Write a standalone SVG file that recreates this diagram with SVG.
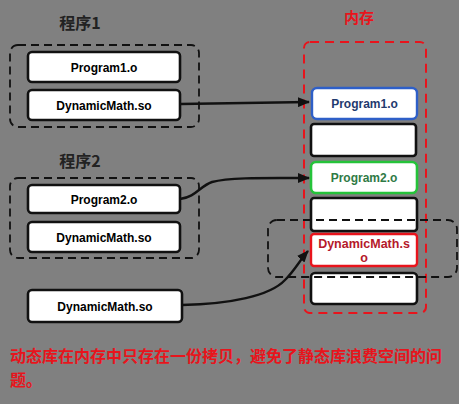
<svg xmlns="http://www.w3.org/2000/svg" width="459" height="404" viewBox="0 0 459 404">
<defs>
<style>
.bg{fill:#808080}
.box{fill:#ffffff;stroke:#111;stroke-width:2.6}
.grp{fill:none;stroke:#111;stroke-width:1.8;stroke-dasharray:8 5}
.mem{fill:none;stroke:#e8141c;stroke-width:2;stroke-dasharray:9 6}
.lbl{font-family:"Liberation Sans",Arial,sans-serif;font-weight:bold;font-size:12px;text-anchor:middle}
.hdr{font-family:"Noto Sans CJK SC","Noto Sans",sans-serif;font-weight:bold;font-size:16px;text-anchor:middle}
.conn{fill:none;stroke:#111;stroke-width:2.4}
.note{font-family:"Noto Sans CJK SC","Noto Sans",sans-serif;font-size:16px;font-weight:bold;fill:#e8141c}
</style>
<marker id="arr" markerWidth="12" markerHeight="10" refX="11" refY="5" orient="auto" markerUnits="userSpaceOnUse">
<path d="M0,0 L12,5 L0,10 Z" fill="#111"/>
</marker>
</defs>
<rect class="bg" x="0" y="0" width="459" height="404"/>

<text class="hdr" x="80" y="29" fill="#222">程序1</text>
<text class="hdr" x="80" y="167" fill="#222">程序2</text>
<text class="hdr" x="359" y="23" fill="#e8141c" style="font-size:15px">内存</text>

<g id="group1">
<rect class="grp" x="10" y="45" width="189" height="82" rx="8"/>
</g>
<g id="p1_program1">
<rect class="box" x="28" y="52" width="152" height="30" rx="4"/>
<text class="lbl" x="104" y="71.5">Program1.o</text>
</g>
<g id="p1_dynamicmath">
<rect class="box" x="28" y="90" width="152" height="30" rx="4"/>
<text class="lbl" x="104" y="109.5">DynamicMath.so</text>
</g>

<g id="group2">
<rect class="grp" x="10" y="178" width="189" height="80" rx="8"/>
</g>
<g id="p2_program2">
<rect class="box" x="28" y="185" width="152" height="28" rx="4"/>
<text class="lbl" x="104" y="203.5">Program2.o</text>
</g>
<g id="p2_dynamicmath">
<rect class="box" x="28" y="222" width="152" height="30" rx="4"/>
<text class="lbl" x="104" y="241.5">DynamicMath.so</text>
</g>

<g id="dynamicmath_lib">
<rect class="box" x="28" y="290" width="154" height="32" rx="4"/>
<text class="lbl" x="105" y="310.5">DynamicMath.so</text>
</g>

<g id="memory">
<rect class="mem" x="304" y="42" width="122" height="271" rx="6"/>
</g>
<g id="mem_program1">
<rect x="312" y="88" width="105" height="31" rx="5" fill="#fff" stroke="#2e5fc8" stroke-width="2.4"/>
<text class="lbl" x="364.5" y="108" fill="#1f3a6e">Program1.o</text>
</g>
<g id="mem_empty1">
<rect class="box" x="311" y="124" width="105" height="32" rx="3"/>
</g>
<g id="mem_program2">
<rect x="311" y="162" width="106" height="31" rx="5" fill="#fff" stroke="#25c33a" stroke-width="2.6"/>
<text class="lbl" x="364" y="182" fill="#2f7a45">Program2.o</text>
</g>
<g id="mem_empty2">
<rect class="box" x="311" y="198" width="106" height="33" rx="3"/>
</g>
<g id="mem_dynamicmath">
<rect x="311" y="234" width="106" height="32" rx="3" fill="#fff" stroke="#e8141c" stroke-width="2.4"/>
<text class="lbl" x="364" y="248" fill="#b5192a" style="font-size:12.5px">DynamicMath.s</text>
<text class="lbl" x="364" y="262" fill="#b5192a" style="font-size:12.5px">o</text>
</g>
<g id="mem_empty3">
<rect class="box" x="311" y="273" width="106" height="31" rx="4"/>
</g>

<g id="shared_region">
<rect class="grp" x="268" y="220" width="189" height="57" rx="9"/>
</g>

<g id="connectors">
<path class="conn" d="M180,104 L309,102" marker-end="url(#arr)"/>
<path class="conn" d="M180,199 C196,197 200,186 212,182 C230,177 270,178 309,178" marker-end="url(#arr)"/>
<path class="conn" d="M182,305 C230,304 270,296 285,280 C295,270 300,260 308,251" marker-end="url(#arr)"/>
</g>

<text class="note" x="10" y="362">动态库在内存中只存在一份拷贝，避免了静态库浪费空间的问</text>
<text class="note" x="10" y="386">题。</text>
</svg>
